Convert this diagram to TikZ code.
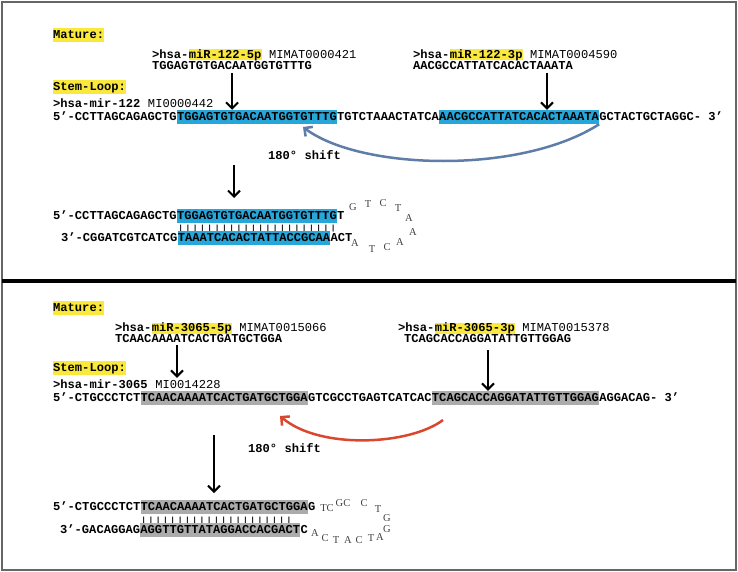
\documentclass[tikz,border=0pt]{standalone}
\usepackage{fontspec}
\setmainfont{Liberation Serif}
\setmonofont{Liberation Mono}
\usetikzlibrary{positioning,arrows.meta}
\definecolor{hlblue}{HTML}{27A6DA}
\definecolor{hlgray}{HTML}{ABABAB}
\definecolor{hlyellow}{HTML}{FBE83C}
\definecolor{shiftblue}{HTML}{5E7DA8}
\definecolor{shiftred}{HTML}{D9472E}
\tikzset{x=1pt, y=-1pt, % picture is laid out in pixels of the reference
  seq/.style={ % one piece of a sequence line
    font=\ttfamily\bfseries\fontsize{12.1}{14}\selectfont,
    inner xsep=0pt, inner ysep=3pt,
    text height=7.5pt, text depth=0.5pt,
    anchor=west},
  acc/.style={seq, font=\ttfamily\fontsize{12.1}{14}\selectfont},
  hb/.style={seq, fill=hlblue},
  hg/.style={seq, fill=hlgray},
  hy/.style={seq, fill=hlyellow},
  hyh/.style={hy, inner ysep=1.5pt},
  bars/.style={acc, inner ysep=0pt, text height=6pt, text depth=0pt},
  loopch/.style={font=\fontsize{10.5}{12}\selectfont, text=black!75, inner sep=0pt},
  >={Straight Barb[length=6pt,width=12pt]},
  arr/.style={->, line width=2pt},
  shiftb/.style={->, line width=2.5pt, shiftblue},
  shiftr/.style={->, line width=2.5pt, shiftred}}
\newcommand{\pairs}[1]{\scalebox{1}[0.62]{#1}}
\begin{document}
\begin{tikzpicture}
  \useasboundingbox (0,0) rectangle (738,572);
  \draw[line width=2pt, black!60] (2,2) rectangle (736,570);
  \draw[line width=3.5pt] (2,281) -- (736,281);

  % miR-122
  \node[hy] (mat1) at (53,35) {Mature:};
  \node[seq] (h5a) at (152,55) {>hsa-};
  \node[hyh, right=0pt of h5a] (h5b) {miR-122-5p};
  \node[acc, right=0pt of h5b] (h5c) {\ MIMAT0000421};
  \node[seq] (m5) at (152,66) {TGGAGTGTGACAATGGTGTTTG};
  \node[seq] (h3a) at (413,55) {>hsa-};
  \node[hyh, right=0pt of h3a] (h3b) {miR-122-3p};
  \node[acc, right=0pt of h3b] (h3c) {\ MIMAT0004590};
  \node[seq] (m3) at (413,66) {AACGCCATTATCACACTAAATA};

  \node[hy] (stl1) at (53,87) {Stem-Loop:};
  \node[seq] (sh1a) at (53,104) {>hsa-mir-122};
  \node[acc, right=0pt of sh1a] (sh1b) {\ MI0000442};
  \node[seq] (s1a) at (53,117) {5’-CCTTAGCAGAGCTG};
  \node[hb, right=0pt of s1a] (s1b) {TGGAGTGTGACAATGGTGTTTG};
  \node[seq, right=0pt of s1b] (s1c) {TGTCTAAACTATCA};
  \node[hb, right=0pt of s1c] (s1d) {AACGCCATTATCACACTAAATA};
  \node[seq, right=0pt of s1d] (s1e) {GCTACTGCTAGGC-\ 3’};

  \coordinate (a2) at (547,73);
  \coordinate (c1) at (303,127);
  \coordinate (a3s) at (234,165);
  \coordinate (a3e) at (234,198);
  \draw[arr] (m5.south) -- (m5.south |- s1b.north);
  \draw[arr] (a2) -- (a2 |- s1d.north);
  \draw[shiftb] (s1d.south east) .. controls (520,175) and (360,170) .. (c1);
  \node[seq] (sft1) at (268,156) {180° shift};
  \draw[arr] (a3s) -- (a3e);

  \node[seq] (d1a) at (53,216) {5’-CCTTAGCAGAGCTG};
  \node[hb, right=0pt of d1a] (d1b) {TGGAGTGTGACAATGGTGTTTG};
  \node[seq, right=0pt of d1b] (d1c) {T};
  \node[bars] (bar1) at (177,227) {\pairs{||||||||||||||||||||||}};
  \node[seq] (e1a) at (61,238) {3’-CGGATCGTCATCG};
  \node[hb, right=0pt of e1a] (e1b) {TAAATCACACTATTACCGCAA};
  \node[seq, right=0pt of e1b] (e1c) {ACT};
  \foreach \x/\y/\c [count=\i] in {353/207/G, 368/204/T, 383/203/C, 398/208/T,
      409/218/A, 413/232/A, 400/242/A, 387/247/C, 372/249/T, 355/243/A}
    \node[loopch] (ta\i) at (\x,\y) {\c};

  % miR-3065
  \node[hy] (mat2) at (53,308) {Mature:};
  \node[seq] (g5a) at (115,328) {>hsa-};
  \node[hyh, right=0pt of g5a] (g5b) {miR-3065-5p};
  \node[acc, right=0pt of g5b] (g5c) {\ MIMAT0015066};
  \node[seq] (n5) at (115,339) {TCAACAAAATCACTGATGCTGGA};
  \node[seq] (g3a) at (398,328) {>hsa-};
  \node[hyh, right=0pt of g3a] (g3b) {miR-3065-3p};
  \node[acc, right=0pt of g3b] (g3c) {\ MIMAT0015378};
  \node[seq] (n3) at (404,339) {TCAGCACCAGGATATTGTTGGAG};

  \node[hy] (stl2) at (53,368) {Stem-Loop:};
  \node[seq] (sh2a) at (53,385) {>hsa-mir-3065};
  \node[acc, right=0pt of sh2a] (sh2b) {\ MI0014228};
  \node[seq] (s2a) at (53,398) {5’-CTGCCCTCT};
  \node[hg, right=0pt of s2a] (s2b) {TCAACAAAATCACTGATGCTGGA};
  \node[seq, right=0pt of s2b] (s2c) {GTCGCCTGAGTCATCAC};
  \node[hg, right=0pt of s2c] (s2d) {TCAGCACCAGGATATTGTTGGAG};
  \node[seq, right=0pt of s2d] (s2e) {AGGACAG-\ 3’};

  \coordinate (b1) at (177,345);
  \coordinate (b2) at (488,350);
  \coordinate (c2s) at (443,420);
  \coordinate (c2e) at (280,416);
  \coordinate (b3s) at (214,435);
  \coordinate (b3e) at (214,493);
  \draw[arr] (b1) -- (b1 |- sh2a.north);
  \draw[arr] (b2) -- (b2 |- s2d.north);
  \draw[shiftr] (c2s) .. controls (410,445) and (320,450) .. (c2e);
  \node[seq] (sft2) at (248,449) {180° shift};
  \draw[arr] (b3s) -- (b3e);

  \node[seq] (d2a) at (53,507) {5’-CTGCCCTCT};
  \node[hg, right=0pt of d2a] (d2b) {TCAACAAAATCACTGATGCTGGA};
  \node[seq, right=0pt of d2b] (d2c) {G};
  \node[bars] (bar2) at (140,519) {\pairs{|||||||||||||||||||||}};
  \node[seq] (e2a) at (60,530) {3’-GACAGGAG};
  \node[hg, right=0pt of e2a] (e2b) {AGGTTGTTATAGGACCACGACT};
  \node[seq, right=0pt of e2b] (e2c) {C};
  \foreach \x/\y/\c [count=\i] in {327/508/TC, 343/503/GC, 364/503/C, 378/509/T,
      387/518/G, 387/529/G, 380/537/A, 371/538/T, 359/540/C, 348/540/A,
      336/540/T, 325/538/C, 315/533/A}
    \node[loopch] (tb\i) at (\x,\y) {\c};
\end{tikzpicture}
\end{document}
